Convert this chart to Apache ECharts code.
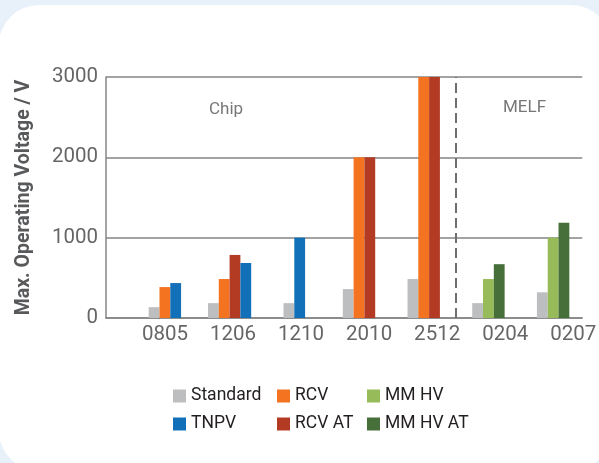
<!DOCTYPE html>
<html>
<head>
<meta charset="utf-8">
<script src="https://cdn.jsdelivr.net/npm/echarts@6/dist/echarts.min.js"></script>
<style>
  html, body { margin: 0; padding: 0; background: #e8f1f9; }
  .panel { position: absolute; left: -1px; top: 5px; width: 612px; height: 466px; background: #fff; border-radius: 40px; }
  .chart { position: absolute; left: 0; top: 0; width: 599px; height: 463px; }
</style>
</head>
<body>
<div class="panel"></div>
<div class="chart" id="main"></div>
<script>
// data
var categories = ['0805', '1206', '1210', '2010', '2512', '0204', '0207'];
var seriesNames = ['Standard', 'RCV', 'RCV AT', 'TNPV', 'MM HV', 'MM HV AT'];
var standard = [135, 185, 185, 360, 485, 185, 320];
var rcv      = [385, 485, null, 2000, 3000, null, null];
var rcvAt    = [null, 785, null, 2000, 3000, null, null];
var tnpv     = [435, 685, 1000, null, null, null, null];
var mmHv     = [null, null, null, null, null, 485, 1000];
var mmHvAt   = [null, null, null, null, null, 670, 1185];
var yTicks   = [0, 1000, 2000, 3000];

var colors = ['#bcbec0', '#f47321', '#b33b24', '#1170b8', '#98bb59', '#466f3a'];
var values = [standard, rcv, rcvAt, tnpv, mmHv, mmHvAt];
var FONT = "Roboto, 'Liberation Sans', sans-serif";
var BAR_W = 10.8;

// bars of one size are packed together, no gap for a missing series
var slotsOf = categories.map(function (c, i) {
    var list = [];
    values.forEach(function (arr, s) { if (arr[i] != null) list.push(s); });
    return list;
});

function renderBar(params, api) {
    var cat = api.value(0);
    var present = slotsOf[cat];
    var slot = present.indexOf(params.seriesIndex);
    var base = api.coord([cat, 0]);
    var top = api.coord([cat, api.value(1)]);
    var x = base[0] - present.length * BAR_W / 2 + slot * BAR_W;
    return {
        type: 'rect',
        shape: { x: x, y: top[1], width: BAR_W, height: base[1] - top[1] },
        style: { fill: api.visual('color') }
    };
}

var series = seriesNames.map(function (name, s) {
    var data = [];
    values[s].forEach(function (v, i) { if (v != null) data.push([i, v]); });
    return {
        name: name,
        type: 'custom',
        xAxisIndex: 1,
        itemStyle: { color: colors[s] },
        renderItem: renderBar,
        encode: { x: 0, y: 1 },
        data: data
    };
});

// dashed divider between Chip and MELF
series.push({
    type: 'line',
    xAxisIndex: 1,
    data: [],
    markLine: {
        silent: true,
        symbol: 'none',
        label: { show: false },
        lineStyle: { color: '#6d6e71', width: 2, type: [10, 5] },
        data: [{ xAxis: 4.5 }]
    }
});

var legendBase = {
    orient: 'vertical',
    top: 386,
    padding: 0,
    itemGap: 8,
    itemWidth: 13,
    itemHeight: 13,
    icon: 'rect',
    selectedMode: false,
    textStyle: { fontFamily: FONT, fontSize: 17.5, lineHeight: 20, color: '#231f20' }
};

var chart = echarts.init(document.getElementById('main'));
chart.setOption({
    animation: false,
    color: colors,
    textStyle: { fontFamily: FONT },
    grid: { left: 106, right: 13, top: 77, bottom: 145 },
    legend: [
        Object.assign({ left: 173, data: ['Standard', 'TNPV'] }, legendBase),
        Object.assign({ left: 277, data: ['RCV', 'RCV AT'] }, legendBase),
        Object.assign({ left: 367, data: ['MM HV', 'MM HV AT'] }, legendBase)
    ],
    xAxis: [
        {
            type: 'category',
            data: categories,
            axisTick: { show: false },
            axisLine: { lineStyle: { color: '#858585', width: 1.5 } },
            axisLabel: {
                interval: 0,
                fontFamily: FONT,
                fontSize: 20.5,
                color: '#666',
                margin: 6,
                padding: [0, 0, 0, 50]
            }
        },
        {
            type: 'value',
            min: -0.91,
            max: 6.45,
            show: false
        }
    ],
    yAxis: {
        type: 'value',
        min: yTicks[0],
        max: yTicks[yTicks.length - 1],
        interval: 1000,
        name: 'Max. Operating Voltage / V',
        nameLocation: 'middle',
        nameRotate: 90,
        nameGap: 72,
        nameTextStyle: { fontFamily: FONT, fontSize: 19.5, fontWeight: 'bold', color: '#58595b' },
        axisLine: { show: true, onZero: false, lineStyle: { color: '#858585', width: 1.5 } },
        axisTick: { show: false },
        splitLine: { lineStyle: { color: '#858585', width: 1.5 } },
        axisLabel: {
            fontFamily: FONT,
            fontSize: 20.5,
            color: '#666',
            margin: 8,
            formatter: function (v) { return String(v); }
        }
    },
    graphic: [
        { type: 'text', left: 209, top: 101, style: { text: 'Chip', font: '17px ' + FONT, fill: '#777' } },
        { type: 'text', left: 503, top: 99, style: { text: 'MELF', font: '17px ' + FONT, fill: '#777' } }
    ],
    series: series
});
</script>
</body>
</html>
